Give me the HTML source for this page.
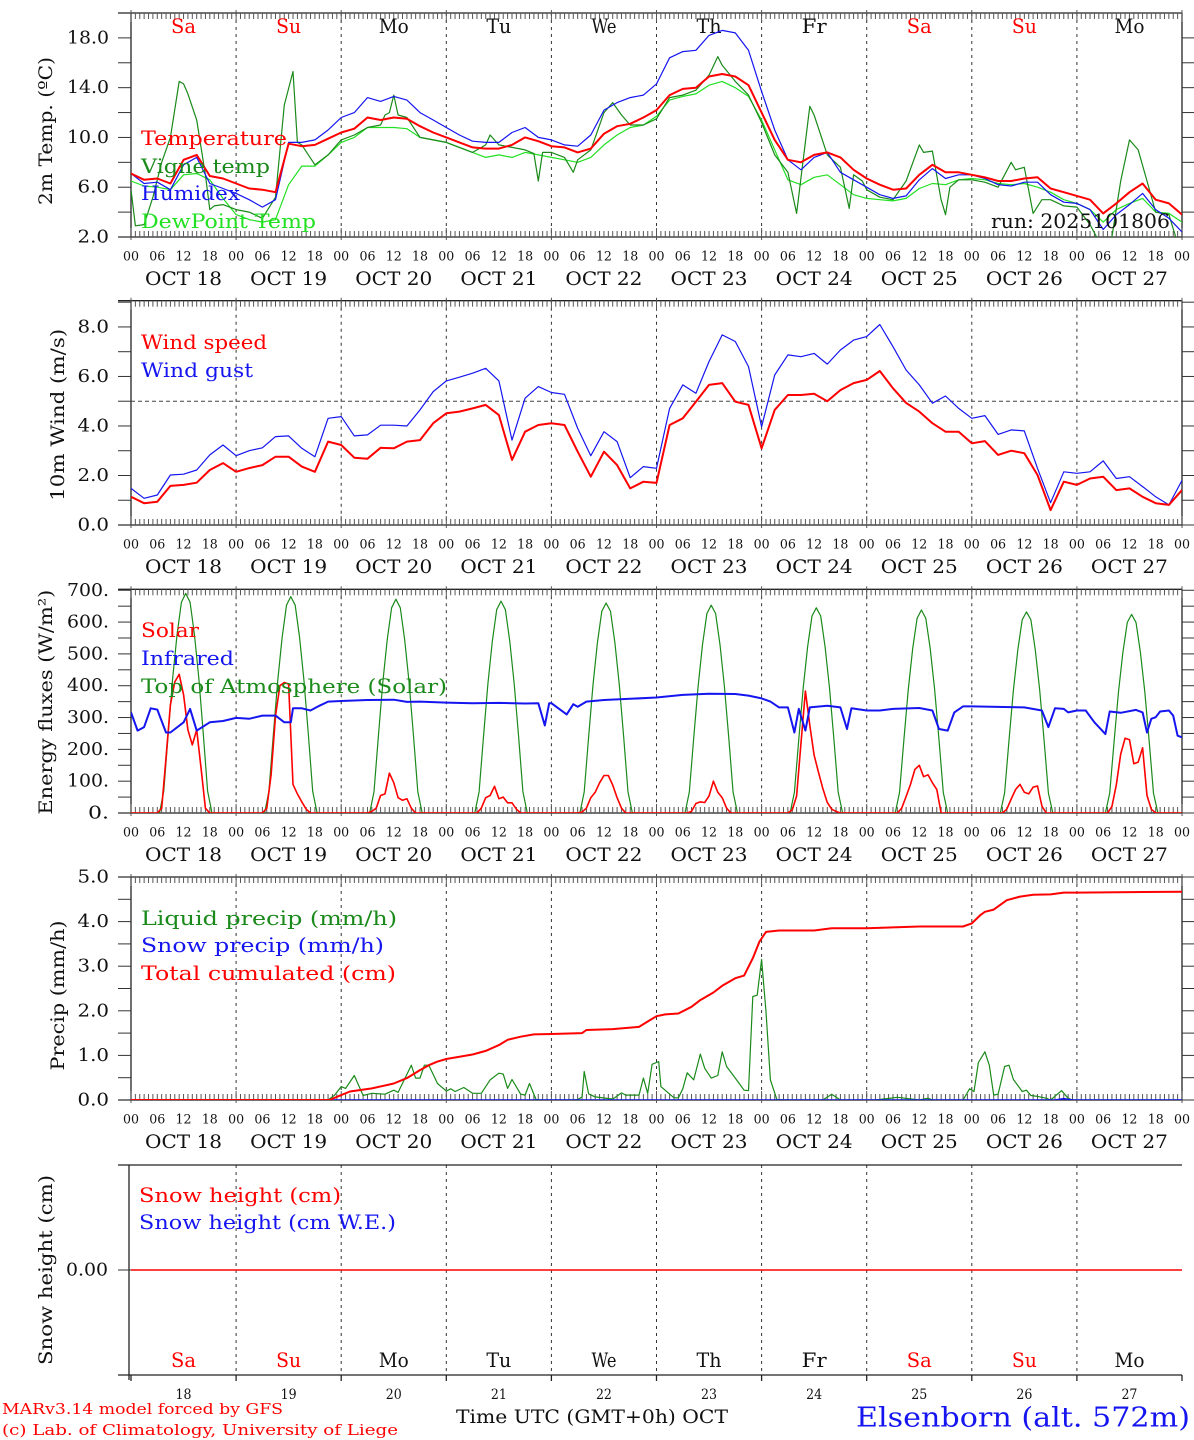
<!DOCTYPE html>
<html><head><meta charset="utf-8">
<style>
html,body{margin:0;padding:0;background:#fff;}
svg{display:block;font-family:"DejaVu Serif","Liberation Serif",serif;}
</style></head>
<body>
<svg id="chart" width="1194" height="1440" viewBox="0 0 1194 1440" xmlns="http://www.w3.org/2000/svg">
<defs>
<clipPath id="c1"><rect x="131" y="13" width="1051" height="224"/></clipPath>
<clipPath id="c2"><rect x="131" y="300" width="1051" height="225"/></clipPath>
<clipPath id="c3"><rect x="131" y="589" width="1051" height="224"/></clipPath>
<clipPath id="c4"><rect x="131" y="877" width="1051" height="223"/></clipPath>
</defs>
</svg>
<script>
// ---------- DATA ----------
const dayNames = ["Sa","Su","Mo","Tu","We","Th","Fr","Sa","Su","Mo"];
const dayNums = ["18","19","20","21","22","23","24","25","26","27"];
const hourLabels = ["00","06","12","18"];
const tempValues = [7.1,6.6,6.7,6.3,8.2,8.6,6.9,6.7, 6.3,5.9,5.8,5.6,9.5,9.3,9.4,9.9, 10.4,10.7,11.6,11.4,11.6,11.5,10.9,10.4, 10.0,9.6,9.2,9.1,9.1,9.4,10.0,9.7, 9.3,9.2,8.8,9.1,10.3,10.9,11.1,11.6, 12.2,13.4,13.9,14.0,14.9,15.1,14.9,14.2, 12.0,9.8,8.2,8.0,8.6,8.8,8.4,7.4, 6.7,6.2,5.8,5.9,7.0,7.8,7.2,7.2, 7.0,6.8,6.5,6.5,6.7,6.8,5.9,5.6, 5.3,5.0,3.9,4.7,5.6,6.3,5.0,4.7, 3.8];
const humidexValues = [7.1,6.3,6.4,5.8,7.8,8.4,6.3,5.9, 5.5,5.0,4.4,5.0,9.6,9.6,9.8,10.6, 11.6,12.0,13.2,12.9,13.3,13.0,12.0,11.4, 10.8,10.2,9.7,9.6,9.6,10.4,10.8,10.0, 9.8,9.4,9.3,10.2,12.2,12.8,13.2,13.4, 14.3,16.4,16.9,17.0,18.2,18.6,18.4,17.0, 13.7,10.6,8.2,7.4,8.4,8.8,7.2,6.6, 6.0,5.4,5.1,5.3,6.6,7.5,6.7,7.0, 7.0,6.7,6.2,6.1,6.4,6.4,5.4,4.8, 4.7,4.2,2.6,3.8,4.6,5.5,4.2,3.5, 2.4];
const dewValues = [6.5,6.1,6.0,5.8,7.0,7.1,6.6,5.1, 3.8,3.4,3.2,3.4,6.2,7.7,7.7,8.6, 9.6,10.0,10.8,10.8,10.8,10.7,10.0,9.8, 9.6,9.2,8.8,8.4,8.6,8.4,8.8,8.6, 8.4,8.2,8.0,8.4,9.4,10.2,10.8,11.0, 11.7,13.0,13.3,13.5,14.2,14.5,14.0,13.3, 11.4,9.0,6.6,6.2,6.8,7.0,6.2,5.4, 5.1,5.0,4.9,5.1,5.9,6.3,6.2,6.6, 6.7,6.6,6.3,6.2,6.3,6.0,5.6,5.0, 4.7,4.2,3.2,4.2,4.7,5.1,4.0,3.9, 3.2];
const vigneHours = [0,1,3,5,7,9,11,12,13,15,17,18,19,21, 24,27,30,33,35,37,38,39,42,45, 48,51,54,57,58,59,60,61,63,66,69, 72,75,78,81,82,84,87,90,92,93,94, 96,99,101,102,105,108,110,112,114,117, 120,123,126,129,132,134,135,138,141, 144,147,150,152,155,156,159,162,164,165,167, 168,171,174,177,180,181,183,185,186,187,189, 192,195,198,201,202,204,206,208,210, 213,216,219,222,224,226,228,230,232,234,237,239,240];
const vigneValues = [5.8,2.9,3.0,5.2,8.0,10,14.5,14.3,13.5,11.4,7.0,4.2,4.5,4.6, 4.2,4.0,3.5,5.2,12.6,15.3,9.6,9.4,7.8,8.6, 9.8,10.2,10.8,11.0,11.8,12.0,13.4,11.8,11.6,10.0,9.8, 9.6,9.2,8.8,9.4,10.2,9.4,9.2,9.0,8.7,6.5,8.8, 8.8,8.4,7.2,8.2,9.0,12.0,12.8,11.8,11.0,11.0, 11.5,13.2,13.4,13.8,15.0,16.5,15.8,14.5,13.4, 11.2,8.6,7.2,3.9,12.5,11.8,8.6,7.6,4.3,7.0,6.5, 5.8,5.2,5.0,6.5,9.4,8.8,8.9,5.0,3.8,6.0,6.6, 6.6,6.4,6.0,8.0,7.4,7.6,3.9,5.0,5.0, 4.5,4.4,3.0,1.0,2.0,6.5,9.8,9.0,6.5,4.0,3.8,1.5,1.0];
const windSpeed = [1.14,0.88,0.94,1.58,1.62,1.71,2.22,2.5, 2.15,2.3,2.42,2.76,2.76,2.36,2.15,3.37, 3.23,2.72,2.68,3.12,3.1,3.37,3.43,4.11, 4.51,4.58,4.71,4.85,4.44,2.63,3.77,4.04, 4.11,4.04,2.96,1.95,2.96,2.42,1.48,1.75, 1.7,4.04,4.31,4.98,5.66,5.73,4.98,4.85, 3.1,4.65,5.25,5.25,5.3,5.0,5.45,5.73, 5.86,6.22,5.52,4.93,4.58,4.11,3.77,3.77, 3.3,3.39,2.83,3.0,2.9,2.02,0.6,1.75, 1.62,1.88,1.95,1.41,1.48,1.14,0.88,0.81, 1.41];
const windGust = [1.48,1.08,1.21,2.02,2.05,2.22,2.83,3.23, 2.8,3.0,3.12,3.57,3.6,3.1,2.76,4.31, 4.38,3.6,3.64,4.03,4.03,4.0,4.65,5.39, 5.82,5.97,6.13,6.33,5.82,3.43,5.12,5.59, 5.35,5.28,3.9,2.8,3.77,3.37,1.91,2.36, 2.29,4.71,5.66,5.32,6.6,7.68,7.41,6.4, 3.97,6.06,6.87,6.8,6.93,6.5,7.07,7.47, 7.61,8.1,7.2,6.26,5.66,4.92,5.21,4.71, 4.31,4.42,3.66,3.84,3.8,2.29,0.9,2.15, 2.09,2.15,2.59,1.88,1.95,1.55,1.14,0.81, 1.8];
const toaHourOfDay = [6.5,7.5,8.5,9.5,10.5,11.5,12.5,13.5,14.5,15.5,16.5,17.5,18.5];
const toaValues = [
[0,69,248,421,559,662,690,662,559,421,248,69,0],
[0,68,245,415,551,653,680,653,551,415,245,68,0],
[0,67,242,410,544,645,672,645,544,410,242,67,0],
[0,67,240,406,539,639,666,639,539,406,240,67,0],
[0,66,238,403,535,634,660,634,535,403,238,66,0],
[0,65,235,398,529,627,653,627,529,398,235,65,0],
[0,65,232,393,522,619,645,619,522,393,232,65,0],
[0,64,230,389,517,612,638,612,517,389,230,64,0],
[0,63,228,386,512,607,632,607,512,386,228,63,0],
[0,62,225,381,505,599,624,599,505,381,225,62,0]];
const solarHourOfDay = [6,7,8,9,10,11,12,13,14,15,16,17,18];
const solarValues = [
[0,15,173,340,412,436,371,261,214,261,140,15,0],
[0,15,120,305,400,410,405,90,60,35,12,0,0],
[0,5,15,55,60,125,95,48,40,45,15,0,0],
[0,0,15,48,55,84,45,50,32,32,12,0,0],
[0,3,15,48,65,95,118,118,88,48,15,0,0],
[0,0,5,30,35,33,53,100,65,48,15,0,0],
[0,10,53,220,383,276,182,128,76,33,12,5,0],
[0,0,15,52,90,137,150,114,120,95,74,0,0],
[0,0,12,44,74,90,65,60,81,85,22,0,0],
[0,0,20,88,185,235,230,155,160,205,55,12,0]];
const irHours = [0,1.5,3,4.5,6,8,9,12,13.5,15,18,21, 24,27,30,33,35,36.5,37,39,41,43,45, 48,54,60,63,66,72,78,84,90,93,94.5,95.5, 96,99.5,101,102,104,108,114,120,126,132,138,141, 144,146,148,150,151.5,152.5,154,155,159,162,163.5,164.5,168, 171,174,180,183,184.5,186.5,188,190,192,204,208,209.5,211,213,214, 216,218,220,222.5,223.5,226,229.5,231,232,233,234,235,237,238,239,240];
const irValues = [316,259,270,329,325,253,253,285,327,259,285,289, 299,296,306,306,285,285,329,329,322,337,350, 352,355,356,349,350,347,345,346,344,345,275,345, 345,310,342,334,350,355,359,363,371,375,374,369, 360,350,332,332,253,327,259,332,337,332,264,329,322, 322,327,330,322,264,259,316,335,335,332,322,270,329,327,316, 322,322,285,248,319,315,324,316,253,296,301,319,322,306,243,238];
const cumHours = [0,45.3,48,50,55,60,63,66,68,70,72,78,81,84,86,89,92,96,103,104,110,116,118,120,122,125,128,130,133,135,138,140,142,143.5,145,148,156,160,168,180,190,192,194,195,197,200,203,206,210,213,216,240];
const cumValues = [0,0,0.11,0.19,0.26,0.37,0.49,0.67,0.78,0.86,0.92,1.02,1.1,1.23,1.35,1.42,1.47,1.48,1.5,1.57,1.59,1.64,1.76,1.88,1.92,1.94,2.09,2.24,2.41,2.56,2.73,2.79,3.18,3.55,3.77,3.8,3.8,3.85,3.85,3.89,3.89,3.96,4.15,4.22,4.27,4.48,4.56,4.6,4.61,4.65,4.65,4.67];
const liqHours = [0,45,46.5,48,49,51,53,55,58,60,61,64,65,66,67,68,70,72,73,74,76,78,80,82,84,85,86,87,89,90,91,92.5,94,101,102,103,103.5,104.5,106,110,112,113,116,117,118,119,120,120.5,121,124,125,126,127,128.5,130,131,132.5,134,135,136,138,140,141,142,143,144,145,146,147.5,150,158,160,162,170,175,180,182,183,190,191.5,192.5,193.5,195,196,197,198,199.5,200.5,201.5,203.5,204.5,205.5,207,209,210,212.5,214,215,240];
const liqValues = [0,0,0.11,0.3,0.26,0.55,0.1,0.15,0.13,0.22,0.17,0.78,0.49,0.49,0.78,0.78,0.37,0.2,0.25,0.19,0.28,0.15,0.15,0.45,0.6,0.58,0.26,0.46,0.13,0.11,0.37,0.01,0,0,0.01,0.07,0.64,0.14,0.07,0.02,0.16,0.11,0.11,0.49,0.15,0.8,0.84,0.86,0.3,0.05,0.05,0.25,0.61,0.45,1.03,0.71,0.49,0.55,1.08,0.75,0.49,0.22,0.21,2.32,2.35,3.15,1.98,0.45,0.01,0,0,0.13,0,0,0.06,0,0.04,0,0,0.25,0.19,0.84,1.08,0.78,0.11,0.13,0.75,0.78,0.46,0.19,0.22,0.1,0.08,0.04,0,0.21,0.04,0,0];
const snowPrecipHours = [0,211,213,215,240];
const snowPrecipValues = [0,0,0.03,0,0];
const snowHeightHours = [0,240];
const snowHeightValues = [0,0];

// ---------- helpers ----------
const NS = "http://www.w3.org/2000/svg";
const svg = document.getElementById("chart");
const X0 = 131, X1 = 1182;
function xScale(h){ return X0 + h * (X1 - X0) / 240; }
function yScaleFor(top, bottom, vmin, vmax){ return v => bottom - (v - vmin) * (bottom - top) / (vmax - vmin); }
function el(tag, attrs, parent){
  const e = document.createElementNS(NS, tag);
  for (const k in attrs) e.setAttribute(k, attrs[k]);
  (parent || svg).appendChild(e);
  return e;
}
function txt(s, x, y, size, color, anchor, name, extra){
  const t = el("text", Object.assign({x:x, y:y, "font-size":size, fill:color, "text-anchor":anchor||"start", "dominant-baseline":"central"}, extra||{}));
  t.textContent = s;
  
  
  return t;
}
function fit(w){ return {textLength:w, lengthAdjust:"spacingAndGlyphs"}; }
function seg(x1,y1,x2,y2,stroke,w,dash,name){
  const l = el("line",{x1:x1,y1:y1,x2:x2,y2:y2,stroke:stroke,"stroke-width":w});
  if (dash) l.setAttribute("stroke-dasharray", dash);
  
  
  return l;
}
function series(hours, vals, ys, color, w, clip, name){
  let d = "";
  for (let i=0;i<vals.length;i++){ d += (i?"L":"M") + xScale(hours[i]).toFixed(1) + "," + ys(vals[i]).toFixed(1); }
  const p = el("path",{d:d, fill:"none", stroke:color, "stroke-width":w, "stroke-linejoin":"round"});
  if (clip) p.setAttribute("clip-path","url(#"+clip+")");
  
  
  return p;
}
function threeHourly(n){ const a=[]; for(let i=0;i<n;i++) a.push(i*3); return a; }
function dailySeries(hod, vals){ const h=[], v=[]; for(let d=0;d<vals.length;d++){ for(let i=0;i<hod.length;i++){ h.push(d*24+hod[i]); v.push(vals[d][i]); } } return {h:h,v:v}; }

function frame(top, bottom, opts){
  for (let d=1; d<10; d++){ const x=xScale(d*24); seg(x,top,x,bottom,"#333",1,"3,4","day-gridline"); }
  seg(118,top,X1,top,"#222",1.3,null,"plot-top-border");
  seg(118,bottom,X1,bottom,"#222",1.3,null,"plot-bottom-border");
  seg(X0,top,X0,bottom,"#222",1.3,null,"y-axis-left");
  seg(X1,top,X1,bottom,"#222",1.3,null,"y-axis-right");
  for (let h=0; h<=240; h++){
    const x = xScale(h);
    const big = h%24===0;
    seg(x, top-(big?3:0), x, top+(big?9:6), "#555", 1, null, "hour-tick-top");
    seg(x, bottom+(big?3:0), x, bottom-(big?9:6), "#555", 1, null, "hour-tick-bottom");
  }
  for (let d=0; d<=40; d++){
    txt(hourLabels[d%4], xScale(d*6), bottom+20, 13, "#111", "middle", "hour-label", fit(16));
  }
  for (let d=0; d<10; d++){
    txt("OCT 18".replace("18", dayNums[d]), xScale(d*24+12), bottom+42, 19, "#111", "middle", "date-label", fit(77));
  }
  const ys = opts.ys;
  for (const v of opts.ticks){ const y=ys(v); seg(118,y,X0,y,"#333",1,null,"y-tick"); seg(X1,y,X1+12,y,"#333",1,null,"y-tick-right"); }
  for (let i=0;i<opts.labels.length;i++){ txt(opts.labels[i], 109, ys(opts.labelVals[i]), 18, "#111", "end", "y-tick-label", fit(opts.labels[i].length*10.5)); }
  const cy = (top+bottom)/2 + (opts.titleDy||0);
  txt(opts.title, opts.titleX, cy, 19, "#111", "middle", "y-axis-title", Object.assign({transform:"rotate(-90 "+opts.titleX+" "+cy+")"}, fit(opts.titleLen)));
}
function legend(items){
  for (const it of items){ txt(it[0], it[1], it[2], 20, it[3], "start", "legend-entry", fit(it[4])); }
}

// ---------- PANEL 1 ----------
const ys1 = yScaleFor(13, 237, 2, 20);
frame(13,237,{ys:ys1, ticks:[2,4,6,8,10,12,14,16,18], labels:["2.0","6.0","10.0","14.0","18.0"], labelVals:[2,6,10,14,18], title:"2m Temp. (ºC)", titleX:46, titleLen:148, titleDy:6});
for (let d=0; d<10; d++){
  const red = dayNames[d]==="Sa" || dayNames[d]==="Su";
  txt(dayNames[d], xScale(d*24+12), 26, 20, red?"#f00":"#111", "middle", "weekday-label", fit(dayNames[d]==="Mo"?30:25));
}
const h3 = threeHourly(81);
series(h3, dewValues, ys1, "#22e022", 1.2, "c1", "dewpoint-line");
series(vigneHours, vigneValues, ys1, "#1a8a1a", 1.2, "c1", "vigne-temp-line");
series(h3, humidexValues, ys1, "#1515f0", 1.2, "c1", "humidex-line");
series(h3, tempValues, ys1, "#f00", 2, "c1", "temperature-line");
legend([["Temperature",141,138,"#f00",146],["Vigne temp",141,166,"#1a8a1a",129],["Humidex",141,193,"#1515f0",99],["DewPoint Temp",141,221,"#22e022",175]]);
txt("run: 2025101806", 991, 221, 20, "#111", "start", "run-label", fit(179));

// ---------- PANEL 2 ----------
const ys2 = yScaleFor(300.7, 525, 0, 9.06);
frame(300.7,525,{ys:ys2, ticks:[0,1,2,3,4,5,6,7,8,9], labels:["0.0","2.0","4.0","6.0","8.0"], labelVals:[0,2,4,6,8], title:"10m Wind (m/s)", titleX:58, titleLen:172, titleDy:2});
seg(X0, ys2(5), X1, ys2(5), "#444", 1, "4,3", "wind-threshold-line");
series(h3, windGust, ys2, "#1515f0", 1.2, "c2", "wind-gust-line");
series(h3, windSpeed, ys2, "#f00", 2, "c2", "wind-speed-line");
legend([["Wind speed",141,342,"#f00",126],["Wind gust",141,370,"#1515f0",112]]);

// ---------- PANEL 3 ----------
const ys3 = yScaleFor(589.3, 813, 0, 703);
const eTicks=[]; for(let v=0; v<=700; v+=50) eTicks.push(v);
frame(589.3,813,{ys:ys3, ticks:eTicks, labels:["0.","100.","200.","300.","400.","500.","600.","700."], labelVals:[0,100,200,300,400,500,600,700], title:"Energy fluxes (W/m²)", titleX:46, titleLen:225, titleDy:1});
const toa = dailySeries(toaHourOfDay, toaValues);
series([0].concat(toa.h,[240]), [0].concat(toa.v,[0]), ys3, "#1a8a1a", 1.2, "c3", "toa-solar-line");
const sol = dailySeries(solarHourOfDay, solarValues);
series([0].concat(sol.h,[240]), [0].concat(sol.v,[0]), ys3, "#f00", 1.6, "c3", "solar-line");
series(irHours, irValues, ys3, "#1515f0", 2, "c3", "infrared-line");
legend([["Solar",141,630,"#f00",58],["Infrared",141,658,"#1515f0",93],["Top of Atmosphere (Solar)",141,686,"#1a8a1a",306]]);

// ---------- PANEL 4 ----------
const ys4 = yScaleFor(877, 1100, 0, 5);
frame(877,1100,{ys:ys4, ticks:[0,0.5,1,1.5,2,2.5,3,3.5,4,4.5,5], labels:["0.0","1.0","2.0","3.0","4.0","5.0"], labelVals:[0,1,2,3,4,5], title:"Precip (mm/h)", titleX:58, titleLen:150, titleDy:7});
series(liqHours, liqValues, ys4, "#1a8a1a", 1.2, "c4", "liquid-precip-line");
series(snowPrecipHours, snowPrecipValues, ys4, "#1515f0", 1.6, "c4", "snow-precip-line");
series(cumHours, cumValues, ys4, "#f00", 2, "c4", "total-cumulated-line");
legend([["Liquid precip (mm/h)",141,918,"#1a8a1a",256],["Snow precip (mm/h)",141,945,"#1515f0",243],["Total cumulated (cm)",141,973,"#f00",255]]);

// ---------- PANEL 5 ----------
for (let d=1; d<10; d++){ const x=xScale(d*24); seg(x,1165,x,1375,"#333",1,"3,4","day-gridline"); }
seg(118,1165,X1,1165,"#222",1.3,null,"plot-top-border");
seg(118,1375,X1,1375,"#222",1.3,null,"plot-bottom-border");
seg(129,1165,129,1380,"#222",1.3,null,"y-axis-left");
seg(118,1270,X0,1270,"#333",1,null,"y-tick");
for (let d=0; d<=10; d++){ const x=xScale(d*24); seg(x,1375,x,1381,"#222",1.3,null,"day-tick"); }
txt("0.00", 108, 1270, 18, "#111", "end", "y-tick-label", fit(42));
txt("Snow height (cm)", 46, 1270, 19, "#111", "middle", "y-axis-title", Object.assign({transform:"rotate(-90 46 1270)"}, fit(190)));
const ys5 = v => 1270 - v*50;
series(snowHeightHours, snowHeightValues, ys5, "#f00", 1.6, null, "snow-height-line");
legend([["Snow height (cm)",139,1195,"#f00",202],["Snow height (cm W.E.)",139,1222,"#1515f0",257]]);
for (let d=0; d<10; d++){
  const red = dayNames[d]==="Sa" || dayNames[d]==="Su";
  txt(dayNames[d], xScale(d*24+12), 1360, 20, red?"#f00":"#111", "middle", "weekday-label", fit(dayNames[d]==="Mo"?30:25));
  txt(dayNums[d], xScale(d*24+12), 1395, 14, "#111", "middle", "day-number-label", fit(16));
}
txt("Time UTC (GMT+0h) OCT", 592, 1417, 19, "#111", "middle", "x-axis-title", fit(272));
txt("MARv3.14 model forced by GFS", 2, 1409, 15, "#f00", "start", "model-credit", fit(281));
txt("(c) Lab. of Climatology, University of Liege", 2, 1430, 15, "#f00", "start", "copyright-credit", fit(396));
txt("Elsenborn (alt. 572m)", 856, 1418, 27, "#1515f0", "start", "station-name", fit(334));
</script>
</body></html>
